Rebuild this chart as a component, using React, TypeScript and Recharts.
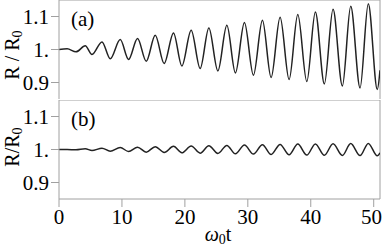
import React from 'react';
import { LineChart, Line, XAxis, YAxis, ReferenceLine, Customized } from 'recharts';

// time of each sampled extremum (ω0 t)
const times = [
  0, 1.3, 2.7, 4.17, 5.24, 6.83, 8.14, 9.73, 11.05, 12.48, 13.86, 15.29, 16.71, 18.19,
  19.52, 21.0, 22.43, 23.81, 25.24, 26.67, 28.03, 29.46, 30.89, 32.32, 33.7, 35.13,
  36.56, 37.94, 39.37, 40.73, 42.16, 43.54, 45.02, 46.35, 47.83, 49.14, 50.57, 51,
];
// panel (a) R/R0
const panelA = [
  1.0, 1.002, 0.993, 1.011, 0.985, 1.023, 0.972, 1.03, 0.9697, 1.0333, 0.9645, 1.0433,
  0.9576, 1.0503, 0.9503, 1.0585, 0.9424, 1.0655, 0.9352, 1.0736, 0.9291, 1.0818,
  0.9221, 1.0888, 0.9152, 1.0979, 0.9091, 1.106, 0.903, 1.114, 0.8958, 1.122, 0.8897,
  1.131, 0.8836, 1.139, 0.8788, 0.937,
];
// panel (b) R/R0
const panelB = [
  1.0, 1.0, 0.999, 1.002, 0.997, 1.004, 0.995, 1.006, 0.994, 1.007, 0.992, 1.0085,
  0.991, 1.0095, 0.99, 1.0105, 0.989, 1.0115, 0.988, 1.0125, 0.987, 1.0135, 0.986,
  1.0145, 0.985, 1.0155, 0.984, 1.0165, 0.983, 1.017, 0.9825, 1.0175, 0.982, 1.018,
  0.9815, 1.0185, 0.981, 0.99,
];
const xTicks = [0, 10, 20, 30, 40, 50];
const yTicks = [0.9, 1, 1.1];
const xDomain = [0, 51];
const yDomain = [0.85, 1.15];
const panelLabels = ['(a)', '(b)'];

const dataA = times.map((t, i) => ({ t, r: panelA[i] }));
const dataB = times.map((t, i) => ({ t, r: panelB[i] }));

const FONT = '"Liberation Serif", "Times New Roman", serif';
const AXIS = '#a0a0a0';
const tickStyle = { fontSize: 21, fill: '#000', fontFamily: FONT };
const fmtY = (v: number) => (v === 1 ? '1.' : String(v));

function Titles({ panel }: { panel: number }) {
  const spaced = panel === 0;
  const cy = panel === 0 ? 55 : 47;
  return (
    <g fill="#000">
      <text x={71} y={26} fontSize={21} style={{ fontFamily: FONT }}>{panelLabels[panel]}</text>
      <text x={19} y={cy} fontSize={20} textAnchor="middle" style={{ fontFamily: FONT }}
        transform={`rotate(-90, 19, ${cy})`}>
        {spaced ? 'R / R' : 'R/R'}
        <tspan fontSize={14} dy={3}>0</tspan>
      </text>
      {panel === 1 && (
        <text x={218} y={141} fontSize={20} textAnchor="middle" style={{ fontFamily: FONT }}>
          <tspan fontStyle="italic">ω</tspan>
          <tspan fontSize={14} dy={3}>0</tspan>
          <tspan dy={-3}>t</tspan>
        </text>
      )}
    </g>
  );
}

export default function App() {
  return (
    <div style={{ position: 'absolute', left: 0, top: 0, width: 382, height: 248, background: '#fff', fontFamily: FONT }}>
      <div style={{ position: 'absolute', left: 0, top: 0 }}>
        <LineChart width={382} height={100} data={dataA} margin={{ top: 0, right: 2, bottom: 1, left: 0 }}>
          <XAxis type="number" dataKey="t" domain={xDomain} ticks={xTicks} allowDataOverflow
            tick={false} tickLine={false} height={0} axisLine={{ stroke: '#444' }} />
          <YAxis type="number" domain={yDomain} ticks={yTicks} allowDataOverflow width={59}
            tickFormatter={fmtY} tick={tickStyle} tickSize={8} tickMargin={2}
            axisLine={{ stroke: AXIS }} tickLine={{ stroke: AXIS }} />
          <ReferenceLine y={1.15} stroke={AXIS} />
          <ReferenceLine x={51} stroke={AXIS} />
          <Line type="monotone" dataKey="r" stroke="#222" strokeWidth={1.5} dot={false} isAnimationActive={false} />
          <Customized component={<Titles panel={0} />} />
        </LineChart>
      </div>
      <div style={{ position: 'absolute', left: 0, top: 100 }}>
        <LineChart width={382} height={148} data={dataB} margin={{ top: 0, right: 2, bottom: 0, left: 0 }}>
          <XAxis type="number" dataKey="t" domain={xDomain} ticks={xTicks} allowDataOverflow
            height={49} tick={tickStyle} tickSize={8} tickMargin={2}
            axisLine={{ stroke: AXIS }} tickLine={{ stroke: AXIS }} />
          <YAxis type="number" domain={yDomain} ticks={yTicks} allowDataOverflow width={59}
            tickFormatter={fmtY} tick={tickStyle} tickSize={8} tickMargin={2}
            axisLine={{ stroke: AXIS }} tickLine={{ stroke: AXIS }} />
          <ReferenceLine y={1.15} stroke={AXIS} />
          <ReferenceLine x={51} stroke={AXIS} />
          <Line type="monotone" dataKey="r" stroke="#222" strokeWidth={1.5} dot={false} isAnimationActive={false} />
          <Customized component={<Titles panel={1} />} />
        </LineChart>
      </div>
    </div>
  );
}
